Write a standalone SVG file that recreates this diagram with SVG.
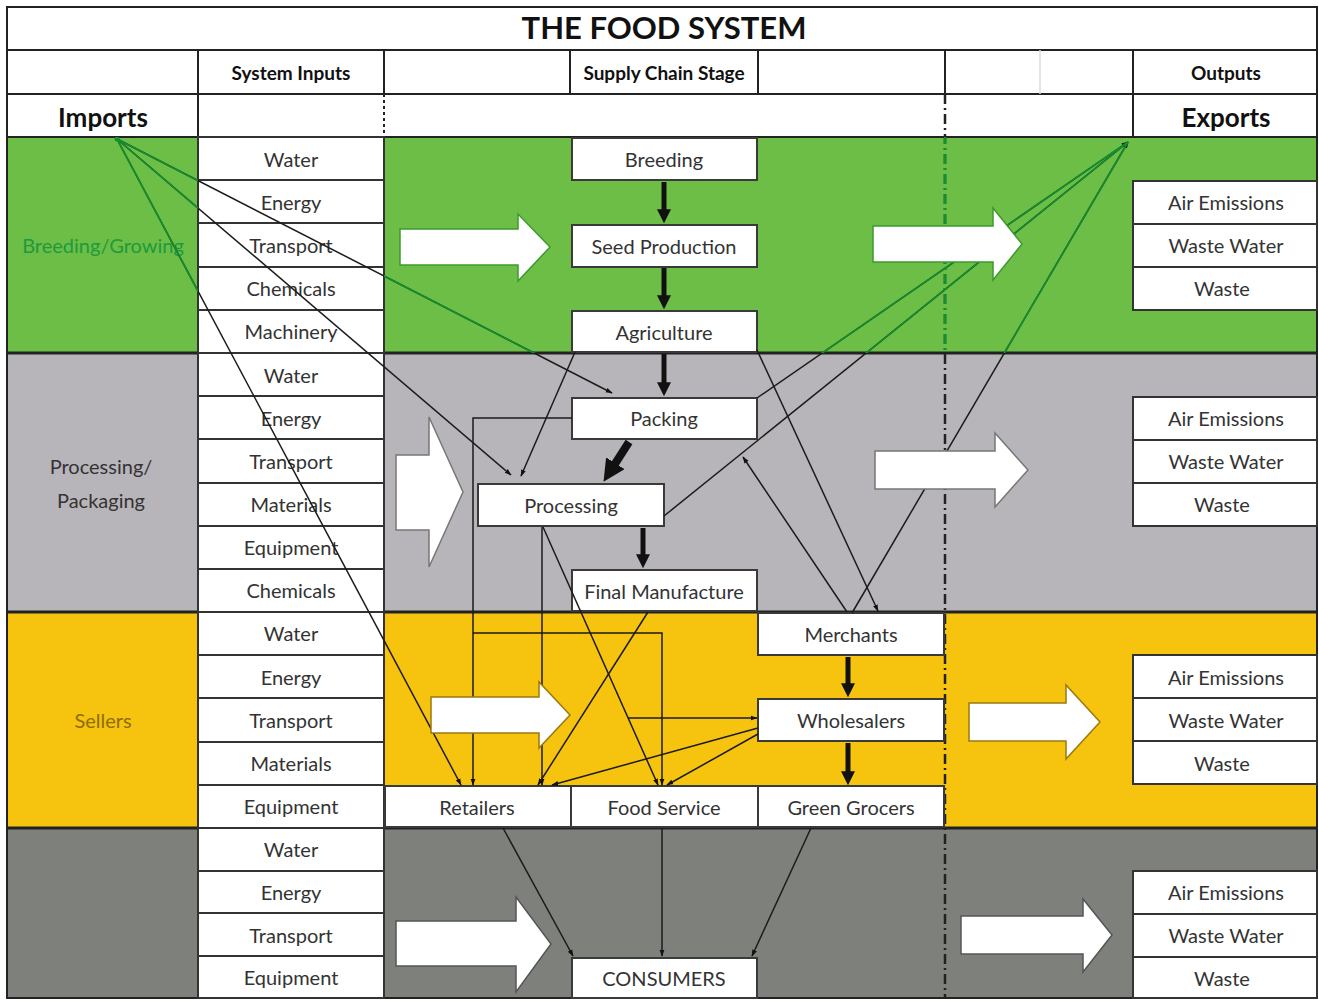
<svg xmlns="http://www.w3.org/2000/svg" width="1319" height="1001" viewBox="0 0 1319 1001">
<style>
.cell{fill:#fff;stroke:#333;stroke-width:2}
.box{fill:#fff;stroke:#3a3a3a;stroke-width:2}
.t{font-family:Lato,"Liberation Sans",sans-serif;font-size:20px;fill:#333;text-anchor:middle;dominant-baseline:central}
.b{font-weight:bold;fill:#111}
.grid{stroke:#222;stroke-width:2;fill:none}
.sep{stroke:#222;stroke-width:3}
.blk{fill:#fff;stroke-width:1.5}
</style>
<defs>
<marker id="ah" viewBox="0 0 10 10" refX="9" refY="5" markerWidth="7" markerHeight="7" markerUnits="userSpaceOnUse" orient="auto"><path d="M0,1.5L10,5L0,8.5Z" fill="#111"/></marker>
<marker id="th" viewBox="0 0 10 10" refX="2" refY="5" markerWidth="14" markerHeight="14" markerUnits="userSpaceOnUse" orient="auto"><path d="M0,0L10,5L0,10Z" fill="#111"/></marker>
<marker id="th2" viewBox="0 0 10 10" refX="2" refY="5" markerWidth="22" markerHeight="22" markerUnits="userSpaceOnUse" orient="auto"><path d="M0,0L10,5L0,10Z" fill="#111"/></marker>
<clipPath id="gclip"><path clip-rule="evenodd" d="M7,137H1317V353H7Z M198,137H384V353H198Z M572,138H757V180H572Z M572,225H757V267H572Z M572,311H757V352H572Z M1133,181H1317V310H1133Z"/></clipPath>
</defs>

<rect x="0" y="0" width="1319" height="1001" fill="#fff"/>

<g id="bands">
<rect x="7" y="137" width="1310" height="216" fill="#6DBE46"/>
<rect x="7" y="353" width="1310" height="259" fill="#B8B5BA"/>
<rect x="7" y="612" width="1310" height="216" fill="#F6C30F"/>
<rect x="7" y="828" width="1310" height="170" fill="#7E807C"/>
</g>

<g id="table">
<rect x="7" y="7" width="1310" height="991" class="grid"/>
<line x1="7" y1="50" x2="1317" y2="50" class="grid"/>
<line x1="7" y1="94" x2="1317" y2="94" class="grid"/>
<line x1="7" y1="137" x2="1317" y2="137" class="grid"/>
<path class="grid" d="M198,50V137 M384,50V94 M570,50V94 M758,50V94 M945,50V94 M1133,50V137"/>
<line x1="1040" y1="50" x2="1040" y2="94" stroke="#ddd" stroke-width="1.5"/>
<line x1="384" y1="94" x2="384" y2="137" stroke="#222" stroke-width="2" stroke-dasharray="3,3"/>
<line x1="7" y1="353" x2="1317" y2="353" class="sep"/>
<line x1="7" y1="612" x2="1317" y2="612" class="sep"/>
<line x1="7" y1="828" x2="1317" y2="828" class="sep"/>
<line id="divider" x1="945" y1="94" x2="945" y2="998" stroke="#222" stroke-width="2.5" stroke-dasharray="10,4,2,4"/>
</g>

<g id="headings">
<text x="664" y="27" class="t b" style="font-size:31px">THE FOOD SYSTEM</text>
<text x="291" y="72" class="t b" style="font-size:19px">System Inputs</text>
<text x="664" y="72" class="t b" style="font-size:19px">Supply Chain Stage</text>
<text x="1226" y="72" class="t b" style="font-size:19px">Outputs</text>
<text x="103" y="117" class="t b" style="font-size:26px">Imports</text>
<text x="1226" y="117" class="t b" style="font-size:26px">Exports</text>
<text x="103" y="245" class="t" style="fill:#1E9A3C">Breeding/Growing</text>
<text x="101" y="466" class="t">Processing/</text>
<text x="101" y="500" class="t">Packaging</text>
<text x="103" y="720" class="t" style="fill:#8E6C00">Sellers</text>
</g>

<g id="inputs-breeding">
<g id="in-b-water"><rect x="198" y="137" width="186" height="43" class="cell"/><text x="291" y="159" class="t">Water</text></g>
<g id="in-b-energy"><rect x="198" y="180" width="186" height="43" class="cell"/><text x="291" y="202" class="t">Energy</text></g>
<g id="in-b-transport"><rect x="198" y="223" width="186" height="44" class="cell"/><text x="291" y="245" class="t">Transport</text></g>
<g id="in-b-chemicals"><rect x="198" y="267" width="186" height="43" class="cell"/><text x="291" y="288" class="t">Chemicals</text></g>
<g id="in-b-machinery"><rect x="198" y="310" width="186" height="43" class="cell"/><text x="291" y="331" class="t">Machinery</text></g>
</g>
<g id="inputs-processing">
<g id="in-p-water"><rect x="198" y="353" width="186" height="43" class="cell"/><text x="291" y="375" class="t">Water</text></g>
<g id="in-p-energy"><rect x="198" y="396" width="186" height="43" class="cell"/><text x="291" y="418" class="t">Energy</text></g>
<g id="in-p-transport"><rect x="198" y="439" width="186" height="44" class="cell"/><text x="291" y="461" class="t">Transport</text></g>
<g id="in-p-materials"><rect x="198" y="483" width="186" height="43" class="cell"/><text x="291" y="504" class="t">Materials</text></g>
<g id="in-p-equipment"><rect x="198" y="526" width="186" height="43" class="cell"/><text x="291" y="547" class="t">Equipment</text></g>
<g id="in-p-chemicals"><rect x="198" y="569" width="186" height="43" class="cell"/><text x="291" y="590" class="t">Chemicals</text></g>
</g>
<g id="inputs-sellers">
<g id="in-s-water"><rect x="198" y="612" width="186" height="43" class="cell"/><text x="291" y="633" class="t">Water</text></g>
<g id="in-s-energy"><rect x="198" y="655" width="186" height="43" class="cell"/><text x="291" y="677" class="t">Energy</text></g>
<g id="in-s-transport"><rect x="198" y="698" width="186" height="44" class="cell"/><text x="291" y="720" class="t">Transport</text></g>
<g id="in-s-materials"><rect x="198" y="742" width="186" height="43" class="cell"/><text x="291" y="763" class="t">Materials</text></g>
<g id="in-s-equipment"><rect x="198" y="785" width="186" height="43" class="cell"/><text x="291" y="806" class="t">Equipment</text></g>
</g>
<g id="inputs-consumers">
<g id="in-c-water"><rect x="198" y="828" width="186" height="43" class="cell"/><text x="291" y="849" class="t">Water</text></g>
<g id="in-c-energy"><rect x="198" y="871" width="186" height="42" class="cell"/><text x="291" y="892" class="t">Energy</text></g>
<g id="in-c-transport"><rect x="198" y="913" width="186" height="43" class="cell"/><text x="291" y="935" class="t">Transport</text></g>
<g id="in-c-equipment"><rect x="198" y="956" width="186" height="42" class="cell"/><text x="291" y="977" class="t">Equipment</text></g>
</g>

<g id="outputs-breeding">
<g id="out-b-air"><rect x="1133" y="181" width="184" height="43" class="cell"/><text x="1226" y="202" class="t">Air Emissions</text></g>
<g id="out-b-ww"><rect x="1133" y="224" width="184" height="43" class="cell"/><text x="1226" y="245" class="t">Waste Water</text></g>
<g id="out-b-waste"><rect x="1133" y="267" width="184" height="43" class="cell"/><text x="1222" y="288" class="t">Waste</text></g>
</g>
<g id="outputs-processing">
<g id="out-p-air"><rect x="1133" y="397" width="184" height="43" class="cell"/><text x="1226" y="418" class="t">Air Emissions</text></g>
<g id="out-p-ww"><rect x="1133" y="440" width="184" height="43" class="cell"/><text x="1226" y="461" class="t">Waste Water</text></g>
<g id="out-p-waste"><rect x="1133" y="483" width="184" height="43" class="cell"/><text x="1222" y="504" class="t">Waste</text></g>
</g>
<g id="outputs-sellers">
<g id="out-s-air"><rect x="1133" y="655" width="184" height="43" class="cell"/><text x="1226" y="677" class="t">Air Emissions</text></g>
<g id="out-s-ww"><rect x="1133" y="698" width="184" height="43" class="cell"/><text x="1226" y="720" class="t">Waste Water</text></g>
<g id="out-s-waste"><rect x="1133" y="741" width="184" height="43" class="cell"/><text x="1222" y="763" class="t">Waste</text></g>
</g>
<g id="outputs-consumers">
<g id="out-c-air"><rect x="1133" y="871" width="184" height="43" class="cell"/><text x="1226" y="892" class="t">Air Emissions</text></g>
<g id="out-c-ww"><rect x="1133" y="914" width="184" height="43" class="cell"/><text x="1226" y="935" class="t">Waste Water</text></g>
<g id="out-c-waste"><rect x="1133" y="957" width="184" height="41" class="cell"/><text x="1222" y="978" class="t">Waste</text></g>
</g>

<g id="breeding"><rect x="572" y="138" width="185" height="42" class="box"/><text x="664" y="159" class="t">Breeding</text></g>
<g id="seed-production"><rect x="572" y="225" width="185" height="42" class="box"/><text x="664" y="246" class="t">Seed Production</text></g>
<g id="agriculture"><rect x="572" y="311" width="185" height="41" class="box"/><text x="664" y="332" class="t">Agriculture</text></g>
<g id="packing"><rect x="572" y="398" width="185" height="41" class="box"/><text x="664" y="418" class="t">Packing</text></g>
<g id="processing"><rect x="478" y="484" width="186" height="42" class="box"/><text x="571" y="505" class="t">Processing</text></g>
<g id="final-manufacture"><rect x="572" y="570" width="185" height="41" class="box"/><text x="664" y="591" class="t">Final Manufacture</text></g>
<g id="merchants"><rect x="758" y="613" width="186" height="42" class="box"/><text x="851" y="634" class="t">Merchants</text></g>
<g id="wholesalers"><rect x="758" y="699" width="186" height="42" class="box"/><text x="851" y="720" class="t">Wholesalers</text></g>
<g id="retailers"><rect x="385" y="786" width="186" height="41" class="box"/><text x="477" y="807" class="t">Retailers</text></g>
<g id="food-service"><rect x="571" y="786" width="187" height="41" class="box"/><text x="664" y="807" class="t">Food Service</text></g>
<g id="green-grocers"><rect x="758" y="786" width="186" height="41" class="box"/><text x="851" y="807" class="t">Green Grocers</text></g>
<g id="consumers"><rect x="572" y="958" width="185" height="40" class="box"/><text x="664" y="978" class="t">CONSUMERS</text></g>

<g id="connectors" fill="none" stroke="#1b1b1b" stroke-width="1.5" marker-end="url(#ah)">
<line id="c-imp-pack" x1="117" y1="139" x2="612" y2="393"/>
<line id="c-imp-proc" x1="117" y1="139" x2="511" y2="475"/>
<line id="c-imp-ret" x1="117" y1="139" x2="461" y2="785"/>
<line id="c-agr-proc" x1="575" y1="352" x2="521" y2="476"/>
<polyline id="c-pack-ret" points="572,418 473,418 473,785"/>
<polyline id="c-pack-fs" points="473,633 662,633 662,785"/>
<line id="c-proc-ret" x1="542" y1="527" x2="542" y2="785"/>
<line id="c-proc-fs" x1="543" y1="527" x2="658" y2="785"/>
<line id="c-fm-ret" x1="648" y1="612" x2="538" y2="785"/>
<line id="c-proc-whs" x1="628" y1="718" x2="757" y2="718"/>
<line id="c-whs-ret" x1="758" y1="728" x2="552" y2="785"/>
<line id="c-whs-fs" x1="758" y1="734" x2="667" y2="785"/>
<line id="c-agr-mer" x1="757" y1="350" x2="878" y2="611"/>
<line id="c-mer-up" x1="847" y1="612" x2="743" y2="457"/>
<line id="c-mer-exp" x1="852" y1="613" x2="1128" y2="142"/>
<line id="c-proc-exp" x1="664" y1="516" x2="1128" y2="142"/>
<line id="c-pack-exp" x1="757" y1="398" x2="1128" y2="142"/>
<line id="c-ret-con" x1="503" y1="828" x2="573" y2="956"/>
<line id="c-fs-con" x1="662" y1="828" x2="662" y2="956"/>
<line id="c-gg-con" x1="811" y1="828" x2="752" y2="956"/>
</g>

<g id="green-tint" clip-path="url(#gclip)" stroke="#13902F" stroke-width="1.6" fill="none">
<line x1="117" y1="139" x2="612" y2="393"/>
<line x1="117" y1="139" x2="511" y2="475"/>
<line x1="117" y1="139" x2="461" y2="785"/>
<line x1="852" y1="613" x2="1128" y2="142"/>
<line x1="664" y1="516" x2="1128" y2="142"/>
<line x1="757" y1="398" x2="1128" y2="142"/>
<line x1="945" y1="94" x2="945" y2="998" stroke-width="2.5" stroke-dasharray="10,4,2,4"/>
<circle cx="117" cy="139" r="2.5" fill="#13902F" stroke="none"/>
</g>

<g id="flow-arrows" stroke="#111" stroke-width="5" marker-end="url(#th)">
<line x1="664" y1="182" x2="664" y2="212"/>
<line x1="664" y1="268" x2="664" y2="298"/>
<line x1="664" y1="354" x2="664" y2="385"/>
<line x1="643" y1="528" x2="643" y2="557"/>
<line x1="848" y1="657" x2="848" y2="686"/>
<line x1="848" y1="743" x2="848" y2="774"/>
<line x1="629" y1="442" x2="613" y2="467" stroke-width="8" marker-end="url(#th2)"/>
</g>

<g id="block-arrows">
<polygon class="blk" stroke="#3E9A2E" points="400,229 518,229 518,214 550,247 518,281 518,265 400,265"/>
<polygon class="blk" stroke="#3E9A2E" points="873,226 993,226 993,208 1022,244 993,280 993,262 873,262"/>
<polygon class="blk" stroke="#777" points="396,455 429,455 429,417 463,492 429,567 429,530 396,530"/>
<polygon class="blk" stroke="#777" points="875,451 995,451 995,433 1028,470 995,507 995,489 875,489"/>
<polygon class="blk" stroke="#9a7a10" points="431,697 539,697 539,682 570,715 539,748 539,733 431,733"/>
<polygon class="blk" stroke="#9a7a10" points="969,703 1066,703 1066,685 1100,722 1066,759 1066,741 969,741"/>
<polygon class="blk" stroke="#555" points="396,921 516,921 516,897 551,944 516,992 516,966 396,966"/>
<polygon class="blk" stroke="#555" points="961,916 1083,916 1083,899 1112,935 1083,972 1083,954 961,954"/>
</g>
</svg>
